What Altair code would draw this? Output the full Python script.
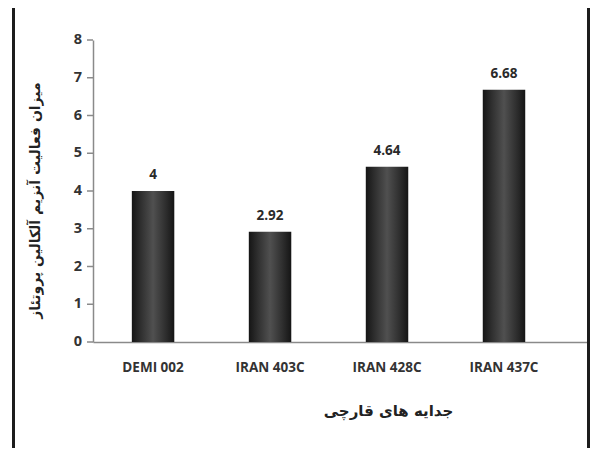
import altair as alt
import pandas as pd

categories = ["DEMI 002", "IRAN 403C", "IRAN 428C", "IRAN 437C"]
values = [4, 2.92, 4.64, 6.68]
value_labels = ["4", "2.92", "4.64", "6.68"]
y_ticks = [0, 1, 2, 3, 4, 5, 6, 7, 8]

y_title = "میزان فعالیت آنزیم آلکالین پروتئاز"
x_title = "جدایه های قارچی"

df = pd.DataFrame({"cat": categories, "val": values, "lab": value_labels})
ticks_df = pd.DataFrame({"t": y_ticks, "tl": [str(t) for t in y_ticks]})

W, H = 494, 302

xscale = alt.Scale(domain=categories, paddingInner=0.637, paddingOuter=0.43, align=0.386)
yscale = alt.Scale(domain=[0, 8], nice=False)

x_axis = alt.Axis(title=x_title, labelAngle=0, ticks=False, labelPadding=18,
                  labelFont="Open Sans", labelFontWeight="bold", labelFontSize=13.5,
                  labelColor="#333", domainColor="#8a8a8a", domainWidth=1.5,
                  titleFont="DejaVu Sans", titleFontWeight="bold", titleFontSize=15,
                  titleColor="#222", titleX=295, titleY=68, titleBaseline="middle",
                  titleAlign="center")
y_axis = alt.Axis(labels=False, ticks=False, grid=False,
                  domainColor="#8a8a8a", domainWidth=1.5,
                  title=y_title, titleFont="DejaVu Sans", titleFontWeight="bold",
                  titleFontSize=14, titleColor="#222", titleAngle=270,
                  titleX=-58, titleY=160, titleAlign="center", titleBaseline="middle")

x_enc = alt.X("cat:N", scale=xscale, sort=categories, axis=x_axis)
y_enc = alt.Y("val:Q", scale=yscale, axis=y_axis)

gradient = alt.Gradient(
    gradient="linear", x1=0, x2=1, y1=0, y2=0,
    stops=[alt.GradientStop(color="#151515", offset=0),
           alt.GradientStop(color="#303030", offset=0.22),
           alt.GradientStop(color="#505050", offset=0.5),
           alt.GradientStop(color="#303030", offset=0.78),
           alt.GradientStop(color="#151515", offset=1)])

bars = alt.Chart(df).mark_bar(color=gradient).encode(x=x_enc, y=y_enc)

labels = alt.Chart(df).mark_text(font="Open Sans", fontWeight="bold", fontSize=13.5,
                                 color="#2a2a2a", baseline="middle", dy=-16).encode(
    x=x_enc, y=y_enc, text="lab:N")

tick_marks = alt.Chart(ticks_df).mark_rule(color="#8a8a8a", strokeWidth=1.5).encode(
    y=alt.Y("t:Q", scale=yscale, axis=y_axis), x=alt.value(-6), x2=alt.value(0))

tick_labels = alt.Chart(ticks_df).mark_text(
    font="Open Sans", fontWeight="bold", fontSize=14.5, color="#333",
    align="right", baseline="middle").encode(
    y=alt.Y("t:Q", scale=yscale, axis=y_axis), x=alt.value(-11), text="tl:N")

frame = alt.Chart(df).mark_rect(filled=False, stroke="#1c1c1c", strokeWidth=3).encode(
    x=alt.value(-79.5), x2=alt.value(W + 1.5), y=alt.value(-35.5), y2=alt.value(430))

chart = alt.layer(bars, labels, tick_marks, tick_labels, frame).properties(
    width=W, height=H,
    background="white",
    view=alt.ViewBackground(stroke=None, strokeWidth=0),
    autosize=alt.AutoSizeParams(type="none"),
    padding={"left": 85, "top": 32, "right": 3, "bottom": 106},
).configure_view(stroke=None, strokeWidth=0)

chart.save("out.html", embed_options={"renderer": "svg", "actions": False})
